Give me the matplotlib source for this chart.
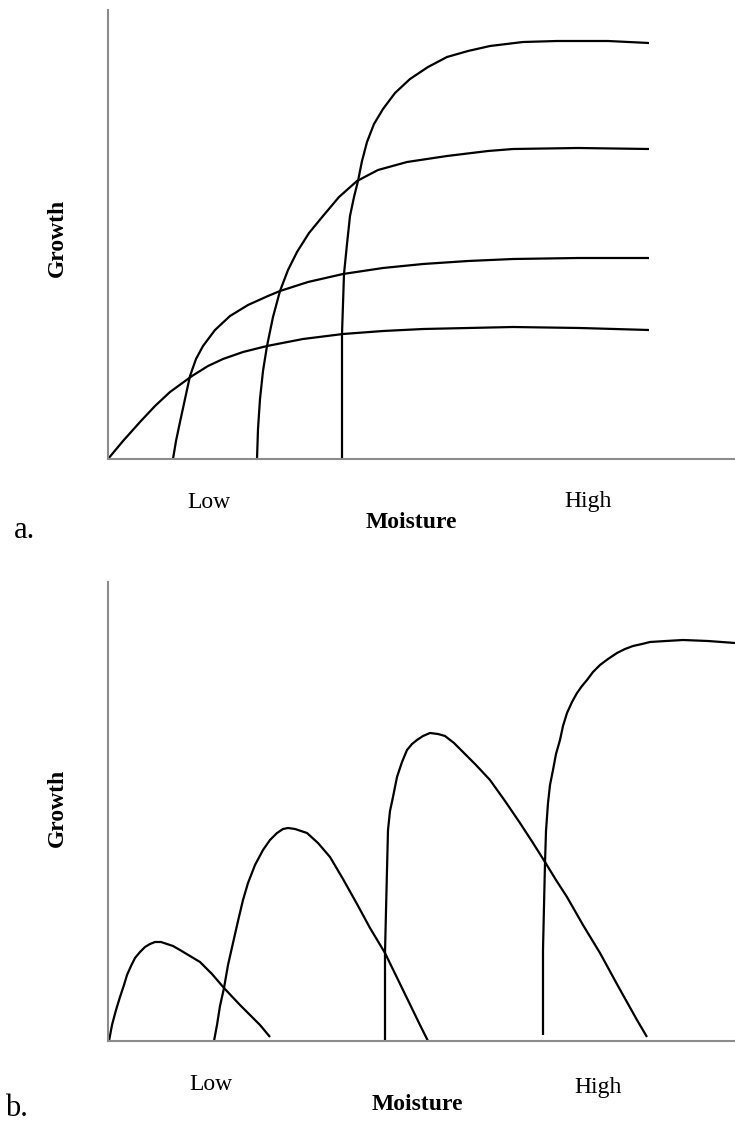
import matplotlib
matplotlib.use("Agg")
import matplotlib.pyplot as plt

## Schematic curves (arbitrary moisture / growth units)
## panel a: saturating growth responses
a1_x = [0, 15, 32, 47, 62, 84, 100, 115, 135, 159, 195, 235, 275, 315, 360, 405, 472, 541]
a1_y = [0, 18, 37, 53, 67, 83, 93, 100, 107, 113, 120, 125, 128, 130, 131, 132, 131, 129]
a2_x = [65, 68, 72, 77, 82, 88, 95, 107, 122, 140, 160, 172, 200, 235, 275, 315, 360, 405, 470, 541]
a2_y = [0, 18, 37, 60, 83, 100, 113, 129, 143, 154, 163, 168, 177, 185, 191, 195, 198, 200, 201, 201]
a3_x = [149, 150, 152, 155, 159, 165, 172, 180, 189, 201, 215, 231, 249, 270, 299, 339, 380, 405, 470, 541]
a3_y = [0, 30, 60, 88, 113, 142, 168, 189, 207, 226, 243, 262, 278, 289, 297, 303, 308, 310, 311, 310]
a4_x = [234, 234, 234, 236, 239, 242, 246, 250, 254, 259, 266, 275, 287, 302, 320, 339, 360, 382, 415, 449, 500, 541]
a4_y = [0, 60, 125, 185, 215, 243, 262, 278, 298, 317, 335, 350, 366, 380, 392, 402, 408, 413, 417, 418, 418, 416]

## panel b: humped responses
b1_x = [1, 4, 8, 12, 16, 19, 23, 27, 32, 37, 42, 47, 53, 59, 65, 72, 82, 92, 104, 116, 132, 152, 162]
b1_y = [0, 16, 31, 44, 56, 66, 75, 83, 89, 94, 97, 99, 99, 97, 95, 91, 85, 79, 67, 53, 36, 16, 4]
b2_x = [106, 109, 112, 116, 120, 125, 130, 135, 140, 147, 155, 162, 169, 175, 180, 187, 193, 199, 210, 222,
        235, 249, 262, 277, 295, 312, 320]
b2_y = [0, 16, 35, 53, 76, 98, 120, 141, 158, 176, 191, 201, 208, 212, 213, 212, 210, 208, 198, 184,
        162, 137, 113, 88, 51, 16, 0]
b3_x = [277, 277, 277, 278, 279, 280, 282, 285, 289, 294, 299, 304, 309, 315, 322, 330, 337, 346, 355, 368,
        382, 397, 412, 425, 437, 448, 459, 475, 492, 510, 529, 539]
b3_y = [0, 44, 88, 130, 171, 211, 230, 244, 264, 279, 291, 297, 301, 305, 308, 307, 305, 298, 289, 276,
        261, 240, 218, 198, 179, 161, 144, 116, 88, 55, 21, 4]
b4_x = [435, 435, 435, 436, 437, 438, 440, 442, 445, 448, 452, 455, 459, 464, 469, 474, 479, 485, 492, 500,
        509, 517, 525, 534, 542, 558, 575, 600, 627]
b4_y = [6, 50, 91, 135, 178, 210, 238, 256, 271, 287, 301, 315, 328, 339, 348, 355, 361, 369, 376, 382,
        388, 392, 395, 397, 399, 400, 401, 400, 398]

axis_labels = ["Low", "High"]

W, H = 735, 1122
fig = plt.figure(figsize=(W / 100, H / 100), dpi=100)
serif = ["Liberation Serif", "DejaVu Serif"]


def make_panel(bottom_px, top_px, curves, ymax):
    ax = fig.add_axes([108 / W, 1 - bottom_px / H, 627 / W, (bottom_px - top_px) / H])
    for xs, ys in curves:
        ax.plot(xs, ys, color="black", lw=1.6, solid_joinstyle="round", solid_capstyle="butt")
    ax.set_xlim(0, 627)
    ax.set_ylim(0, ymax)
    for s in ["top", "right"]:
        ax.spines[s].set_visible(False)
    for s in ["left", "bottom"]:
        ax.spines[s].set_color("#8c8c8c")
        ax.spines[s].set_linewidth(1.5)
    ax.set_xticks([])
    ax.set_yticks([])
    return ax


make_panel(459, 10, [(a1_x, a1_y), (a2_x, a2_y), (a3_x, a3_y), (a4_x, a4_y)], 449)
make_panel(1041, 582, [(b1_x, b1_y), (b2_x, b2_y), (b3_x, b3_y), (b4_x, b4_y)], 459)


def txt(x, y, s, **kw):
    fig.text(x / W, 1 - y / H, s, ha="center", va="center", family=serif, **kw)


## panel a text
txt(57, 238, "Growth", fontsize=17, fontweight="bold", rotation=90)
txt(209, 502, axis_labels[0], fontsize=17)
txt(588, 502, axis_labels[1], fontsize=17)
txt(411, 522, "Moisture", fontsize=17, fontweight="bold")
txt(24, 530, "a.", fontsize=22)

## panel b text
txt(57, 808, "Growth", fontsize=17, fontweight="bold", rotation=90)
txt(211, 1085, axis_labels[0], fontsize=17)
txt(598, 1087, axis_labels[1], fontsize=17)
txt(417, 1104, "Moisture", fontsize=17, fontweight="bold")
txt(16, 1109, "b.", fontsize=22)

fig.savefig("out.png", dpi=100)
